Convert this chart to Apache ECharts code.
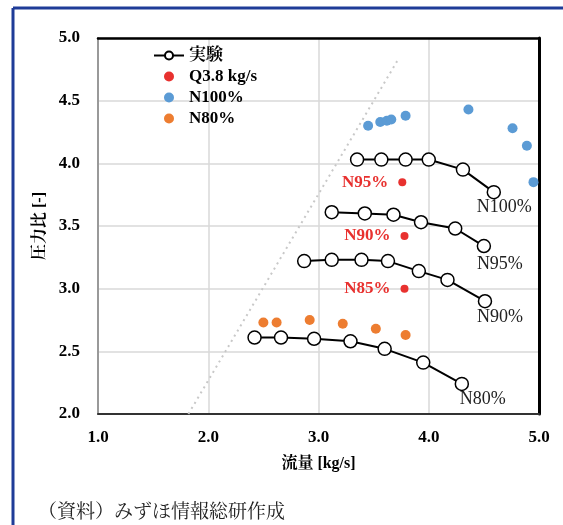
<!DOCTYPE html>
<html>
<head>
<meta charset="utf-8">
<script src="https://cdn.jsdelivr.net/npm/echarts@6/dist/echarts.min.js"></script>
<style>
html,body{margin:0;padding:0;background:#fff;}
#chart{width:563px;height:525px;}
</style>
</head>
<body>
<div id="chart"></div>
<script>
// ---- data ----
const curveNames = ['N100%', 'N95%', 'N90%', 'N80%'];
const curveN100 = [[3.35,4.03],[3.57,4.03],[3.79,4.03],[4.00,4.03],[4.31,3.95],[4.59,3.77]];
const curveN95  = [[3.12,3.61],[3.42,3.60],[3.68,3.59],[3.93,3.53],[4.24,3.48],[4.50,3.34]];
const curveN90  = [[2.87,3.22],[3.12,3.23],[3.39,3.23],[3.63,3.22],[3.91,3.14],[4.17,3.07],[4.51,2.90]];
const curveN80  = [[2.42,2.61],[2.66,2.61],[2.96,2.60],[3.29,2.58],[3.60,2.52],[3.95,2.41],[4.30,2.24]];
const q38Points = [[3.76,3.85],[3.78,3.42],[3.78,3.00]];
const q38Labels = ['N95%', 'N90%', 'N85%'];
const n100Dots  = [[3.45,4.30],[3.56,4.33],[3.62,4.34],[3.66,4.35],[3.79,4.38],[4.36,4.43],[4.76,4.28],[4.89,4.14],[4.95,3.85]];
const n80Dots   = [[2.50,2.73],[2.62,2.73],[2.92,2.75],[3.22,2.72],[3.52,2.68],[3.79,2.63]];
const surgeLine = [[1.82,2.0],[3.73,4.84]];
const legendNames = ['実験', 'Q3.8 kg/s', 'N100%', 'N80%'];
const xName = '流量 [kg/s]';
const yName = '圧力比 [-]';
const sourceText = '（資料）みずほ情報総研作成';

// ---- layout / style ----
const endLabelOffsets = [[-17,15],[-7,18],[-8,16],[-2,15]];
const serif = "'Liberation Serif', 'Noto Serif CJK JP', 'Noto Sans CJK JP', serif";

const curves = [curveN100, curveN95, curveN90, curveN80];
const expSeries = curves.map((c, i) => ({
  name: legendNames[0],
  type: 'line',
  symbol: 'circle',
  symbolSize: 13,
  z: 5,
  lineStyle: {color: '#000', width: 2},
  itemStyle: {color: '#fff', borderColor: '#000', borderWidth: 1.5},
  emphasis: {disabled: true},
  data: c.map((p, j) => j === c.length - 1 ? {
    value: p,
    label: {
      show: true, formatter: curveNames[i], position: 'inside',
      align: 'left', verticalAlign: 'middle', offset: endLabelOffsets[i],
      fontFamily: serif, fontSize: 18, color: '#222'
    }
  } : p)
}));

const chart = echarts.init(document.getElementById('chart'), null, {renderer: 'canvas'});
chart.setOption({
  animation: false,
  backgroundColor: '#fff',
  title: {
    text: sourceText, left: 33, top: 496,
    textStyle: {fontFamily: "'Noto Serif CJK JP', 'Noto Sans CJK JP', serif", fontWeight: 'normal', fontSize: 19, color: '#222'}
  },
  graphic: [
    {type: 'line', shape: {x1: 13, y1: 8, x2: 563, y2: 8}, style: {stroke: '#1f3c98', lineWidth: 3}},
    {type: 'line', shape: {x1: 13, y1: 8, x2: 13, y2: 525}, style: {stroke: '#1f3c98', lineWidth: 3}}
  ],
  grid: {left: 98, right: 24, top: 38, bottom: 111, containLabel: false},
  legend: {
    orient: 'vertical', left: 148, top: 42,
    itemWidth: 30, itemHeight: 10, itemGap: 4,
    data: legendNames,
    textStyle: {fontFamily: serif, fontWeight: 'bold', fontSize: 17, color: '#000', lineHeight: 16}
  },
  xAxis: [{
    type: 'value', min: 1, max: 5, interval: 1,
    name: xName, nameLocation: 'middle', nameGap: 42,
    nameTextStyle: {fontFamily: serif, fontWeight: 'bold', fontSize: 16, color: '#000'},
    axisLine: {show: true, onZero: false, lineStyle: {color: '#333', width: 2}},
    axisTick: {show: false},
    axisLabel: {margin: 15, fontFamily: serif, fontWeight: 'bold', fontSize: 17, color: '#000',
      formatter: v => v.toFixed(1)},
    splitLine: {show: true, lineStyle: {color: '#d9d9d9', width: 1.5}}
  }, {
    type: 'value', position: 'top', min: 1, max: 5, interval: 1,
    axisLine: {show: true, onZero: false, lineStyle: {color: '#000', width: 2.5}},
    axisTick: {show: false}, axisLabel: {show: false}, splitLine: {show: false}
  }],
  yAxis: [{
    type: 'value', min: 2, max: 5, interval: 0.5,
    name: yName, nameLocation: 'middle', nameGap: 47, nameRotate: 90,
    nameTextStyle: {fontFamily: serif, fontWeight: 'bold', fontSize: 16, color: '#000'},
    axisLine: {show: true, onZero: false, lineStyle: {color: '#999', width: 2}},
    axisTick: {show: false},
    axisLabel: {margin: 18, fontFamily: serif, fontWeight: 'bold', fontSize: 17, color: '#000',
      formatter: v => v.toFixed(1)},
    splitLine: {show: true, lineStyle: {color: '#d9d9d9', width: 1.5}}
  }, {
    type: 'value', position: 'right', min: 2, max: 5, interval: 0.5,
    axisLine: {show: true, onZero: false, lineStyle: {color: '#000', width: 3}},
    axisTick: {show: false}, axisLabel: {show: false}, splitLine: {show: false}
  }],
  series: [
    {
      name: 'surge', type: 'line', symbol: 'none', silent: true, z: 1,
      lineStyle: {color: '#c8c8c8', width: 2, type: [2, 4]},
      data: surgeLine
    },
    ...expSeries,
    {
      name: legendNames[1], type: 'scatter', symbolSize: 8, z: 4,
      itemStyle: {color: '#e8312f', opacity: 1},
      data: q38Points.map((p, i) => ({
        value: p,
        label: {show: true, formatter: q38Labels[i], position: 'left', distance: 10,
          fontFamily: serif, fontWeight: 'bold', fontSize: 17, color: '#e8312f'}
      }))
    },
    {
      name: legendNames[2], type: 'scatter', symbolSize: 10, z: 3,
      itemStyle: {color: '#5b9bd5', opacity: 1},
      data: n100Dots
    },
    {
      name: legendNames[3], type: 'scatter', symbolSize: 10, z: 3,
      itemStyle: {color: '#ed7d31', opacity: 1},
      data: n80Dots
    }
  ]
});
</script>
</body>
</html>
